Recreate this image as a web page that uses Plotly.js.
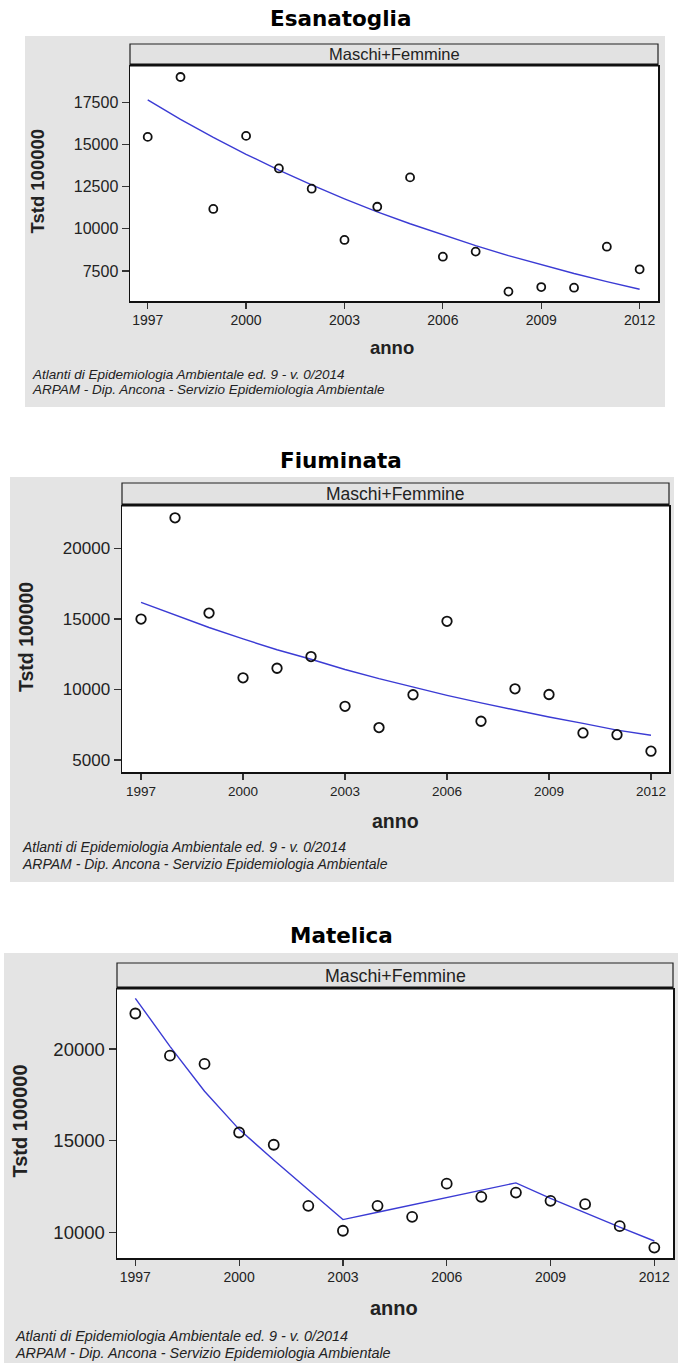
<!DOCTYPE html>
<html>
<head>
<meta charset="utf-8">
<script src="https://cdn.plot.ly/plotly-3.0.1.min.js"></script>
<style>
html,body{margin:0;padding:0;background:#fff;}
#chart{width:678px;height:1363px;}
</style>
</head>
<body>
<div id="chart"></div>
<script>
// ---------- data ----------
const years = [1997,1998,1999,2000,2001,2002,2003,2004,2005,2006,2007,2008,2009,2010,2011,2012];
const xTickVals = [1997,2000,2003,2006,2009,2012];

const panelTitles = ["Esanatoglia","Fiuminata","Matelica"];
const stripLabel = "Maschi+Femmine";
const xAxisTitle = "anno";
const yAxisTitle = "Tstd 100000";
const footLine1 = "Atlanti di Epidemiologia Ambientale ed. 9 - v. 0/2014";
const footLine2 = "ARPAM - Dip. Ancona - Servizio Epidemiologia Ambientale";

const esaObserved = [15450,19000,11180,15510,13580,12380,9340,11310,13050,8350,8650,6280,6550,6510,8940,7600];
const esaFitted   = [17640,16490,15420,14420,13480,12600,11780,11010,10300,9630,9000,8410,7870,7350,6870,6420];
const esaYTicks   = [7500,10000,12500,15000,17500];

const fiuObserved = [15000,22180,15420,10830,11510,12340,8810,7300,9630,14840,7750,10050,9650,6920,6800,5630];
const fiuFitted   = [16180,15270,14400,13590,12820,12150,11420,10770,10160,9590,9050,8540,8050,7600,7120,6760];
const fiuYTicks   = [5000,10000,15000,20000];

const matObserved = [21940,19640,19190,15450,14780,11450,10090,11450,10850,12660,11940,12170,11720,11540,10340,9170];
const matFitted   = [22770,20150,17700,15620,13950,12350,10700,11100,11500,11900,12300,12700,11850,11050,10290,9530];
const matYTicks   = [10000,15000,20000];

// ---------- layout helpers (pixel -> paper) ----------
const W = 678, H = 1363;
const PX = p => p / W;
const PY = p => 1 - p / H;

const panels = [
  { obs: esaObserved, fit: esaFitted, yticks: esaYTicks,
    box: [25, 36, 665, 407], plot: [130, 66, 658, 301], strip: [44, 65],
    xr: [1996.46, 2012.56], yr: [5722, 19652],
    titleY: 18, yTitleX: 37, anno: [392, 348], foot: [30, 375, 390],
    tickFontY: 16, tickFontX: 14, axFont: 18.5, stripFont: 16.5, footFont: 13.5, marker: 8 },
  { obs: fiuObserved, fit: fiuFitted, yticks: fiuYTicks,
    box: [10, 477, 674, 882], plot: [122, 506, 669, 772], strip: [483, 505],
    xr: [1996.44, 2012.53], yr: [4152, 23017],
    titleY: 460, yTitleX: 26, anno: [395, 821], foot: [20, 847, 864],
    tickFontY: 17, tickFontX: 13.5, axFont: 19.5, stripFont: 17.5, footFont: 14, marker: 9.5 },
  { obs: matObserved, fit: matFitted, yticks: matYTicks,
    box: [4, 953, 678, 1363], plot: [117, 989, 673, 1258], strip: [963, 988],
    xr: [1996.47, 2012.54], yr: [8603, 23277],
    titleY: 935, yTitleX: 19, anno: [394, 1308], foot: [13, 1336, 1353],
    tickFontY: 18.5, tickFontX: 14, axFont: 20, stripFont: 17.8, footFont: 14.4, marker: 10 }
];

const traces = [];
const shapes = [];
const annotations = [];
const layout = {
  width: W, height: H,
  margin: {l:0, r:0, t:0, b:0},
  paper_bgcolor: "#ffffff",
  plot_bgcolor: "rgba(0,0,0,0)",
  showlegend: false,
  font: {family: "Liberation Sans, Arial, sans-serif", color: "#222"}
};

panels.forEach((p, i) => {
  const n = i === 0 ? "" : String(i + 1);
  const xa = "x" + n, ya = "y" + n;
  const [l, t, r, b] = p.plot;

  layout["xaxis" + n] = {
    domain: [PX(l), PX(r)], anchor: ya, range: p.xr,
    tickmode: "array", tickvals: xTickVals, ticktext: xTickVals.map(String),
    ticks: "outside", ticklen: 6, tickwidth: 1.2, tickcolor: "#333",
    showline: true, mirror: true, linecolor: "#111", linewidth: 1.5,
    showgrid: false, zeroline: false, fixedrange: true,
    tickfont: {size: p.tickFontX, color: "#222", family: "Liberation Sans, Arial, sans-serif"}
  };
  layout["yaxis" + n] = {
    domain: [PY(b), PY(t)], anchor: xa, range: p.yr,
    tickmode: "array", tickvals: p.yticks, ticktext: p.yticks.map(String),
    ticks: "outside", ticklen: 7, tickwidth: 1.2, tickcolor: "#333",
    showline: true, mirror: true, linecolor: "#111", linewidth: 1.5,
    showgrid: false, zeroline: false, fixedrange: true,
    tickfont: {size: p.tickFontY, color: "#222", family: "Liberation Sans, Arial, sans-serif"}
  };

  // gray panel background
  shapes.push({type: "rect", xref: "paper", yref: "paper", layer: "below",
    x0: PX(p.box[0]), x1: PX(p.box[2]), y0: PY(p.box[3]), y1: PY(p.box[1]),
    fillcolor: "#e4e4e4", line: {width: 0}});
  // white plot area
  shapes.push({type: "rect", xref: "paper", yref: "paper", layer: "below",
    x0: PX(l), x1: PX(r), y0: PY(b), y1: PY(t),
    fillcolor: "#ffffff", line: {width: 0}});
  // strip header
  shapes.push({type: "rect", xref: "paper", yref: "paper", layer: "above",
    x0: PX(l), x1: PX(r), y0: PY(p.strip[1]), y1: PY(p.strip[0]),
    fillcolor: "#e2e2e2", line: {color: "#222", width: 1.2}});
  shapes.push({type: "line", xref: "paper", yref: "paper", layer: "above",
    x0: PX(l), x1: PX(r), y0: PY(p.strip[1]), y1: PY(p.strip[1]),
    line: {color: "#111", width: 3}});

  annotations.push({xref: "paper", yref: "paper", x: PX((l + r) / 2), y: PY((p.strip[0] + p.strip[1]) / 2),
    xanchor: "center", yanchor: "middle", showarrow: false, text: stripLabel,
    font: {size: p.stripFont, color: "#222", family: "Liberation Sans, Arial, sans-serif"}});
  annotations.push({xref: "paper", yref: "paper", x: PX(341), y: PY(p.titleY),
    xanchor: "center", yanchor: "middle", showarrow: false, text: "<b>" + panelTitles[i] + "</b>",
    font: {size: 21.5, color: "#000", family: "DejaVu Sans, Verdana, sans-serif"}});
  annotations.push({xref: "paper", yref: "paper", x: PX(p.yTitleX), y: PY((t + b) / 2 - 2),
    xanchor: "center", yanchor: "middle", showarrow: false, textangle: -90,
    text: "<b>" + yAxisTitle + "</b>",
    font: {size: p.axFont, color: "#222", family: "Liberation Sans, Arial, sans-serif"}});
  annotations.push({xref: "paper", yref: "paper", x: PX(p.anno[0]), y: PY(p.anno[1]),
    xanchor: "center", yanchor: "middle", showarrow: false, text: "<b>" + xAxisTitle + "</b>",
    font: {size: p.axFont, color: "#222", family: "Liberation Sans, Arial, sans-serif"}});
  annotations.push({xref: "paper", yref: "paper", x: PX(p.foot[0]), y: PY(p.foot[1]),
    xanchor: "left", yanchor: "middle", showarrow: false, text: "<i>" + footLine1 + "</i>",
    font: {size: p.footFont, color: "#222", family: "Liberation Sans, Arial, sans-serif"}});
  annotations.push({xref: "paper", yref: "paper", x: PX(p.foot[0]), y: PY(p.foot[2]),
    xanchor: "left", yanchor: "middle", showarrow: false, text: "<i>" + footLine2 + "</i>",
    font: {size: p.footFont, color: "#222", family: "Liberation Sans, Arial, sans-serif"}});

  traces.push({x: years, y: p.fit, xaxis: xa, yaxis: ya, type: "scatter", mode: "lines",
    line: {color: "#3b3bd4", width: 1.4}, hoverinfo: "skip"});
  traces.push({x: years, y: p.obs, xaxis: xa, yaxis: ya, type: "scatter", mode: "markers",
    marker: {symbol: "circle-open", size: p.marker, color: "#111", line: {width: 1.8, color: "#111"}},
    hoverinfo: "skip"});
});

layout.shapes = shapes;
layout.annotations = annotations;

Plotly.newPlot("chart", traces, layout, {staticPlot: true, displayModeBar: false});
</script>
</body>
</html>
